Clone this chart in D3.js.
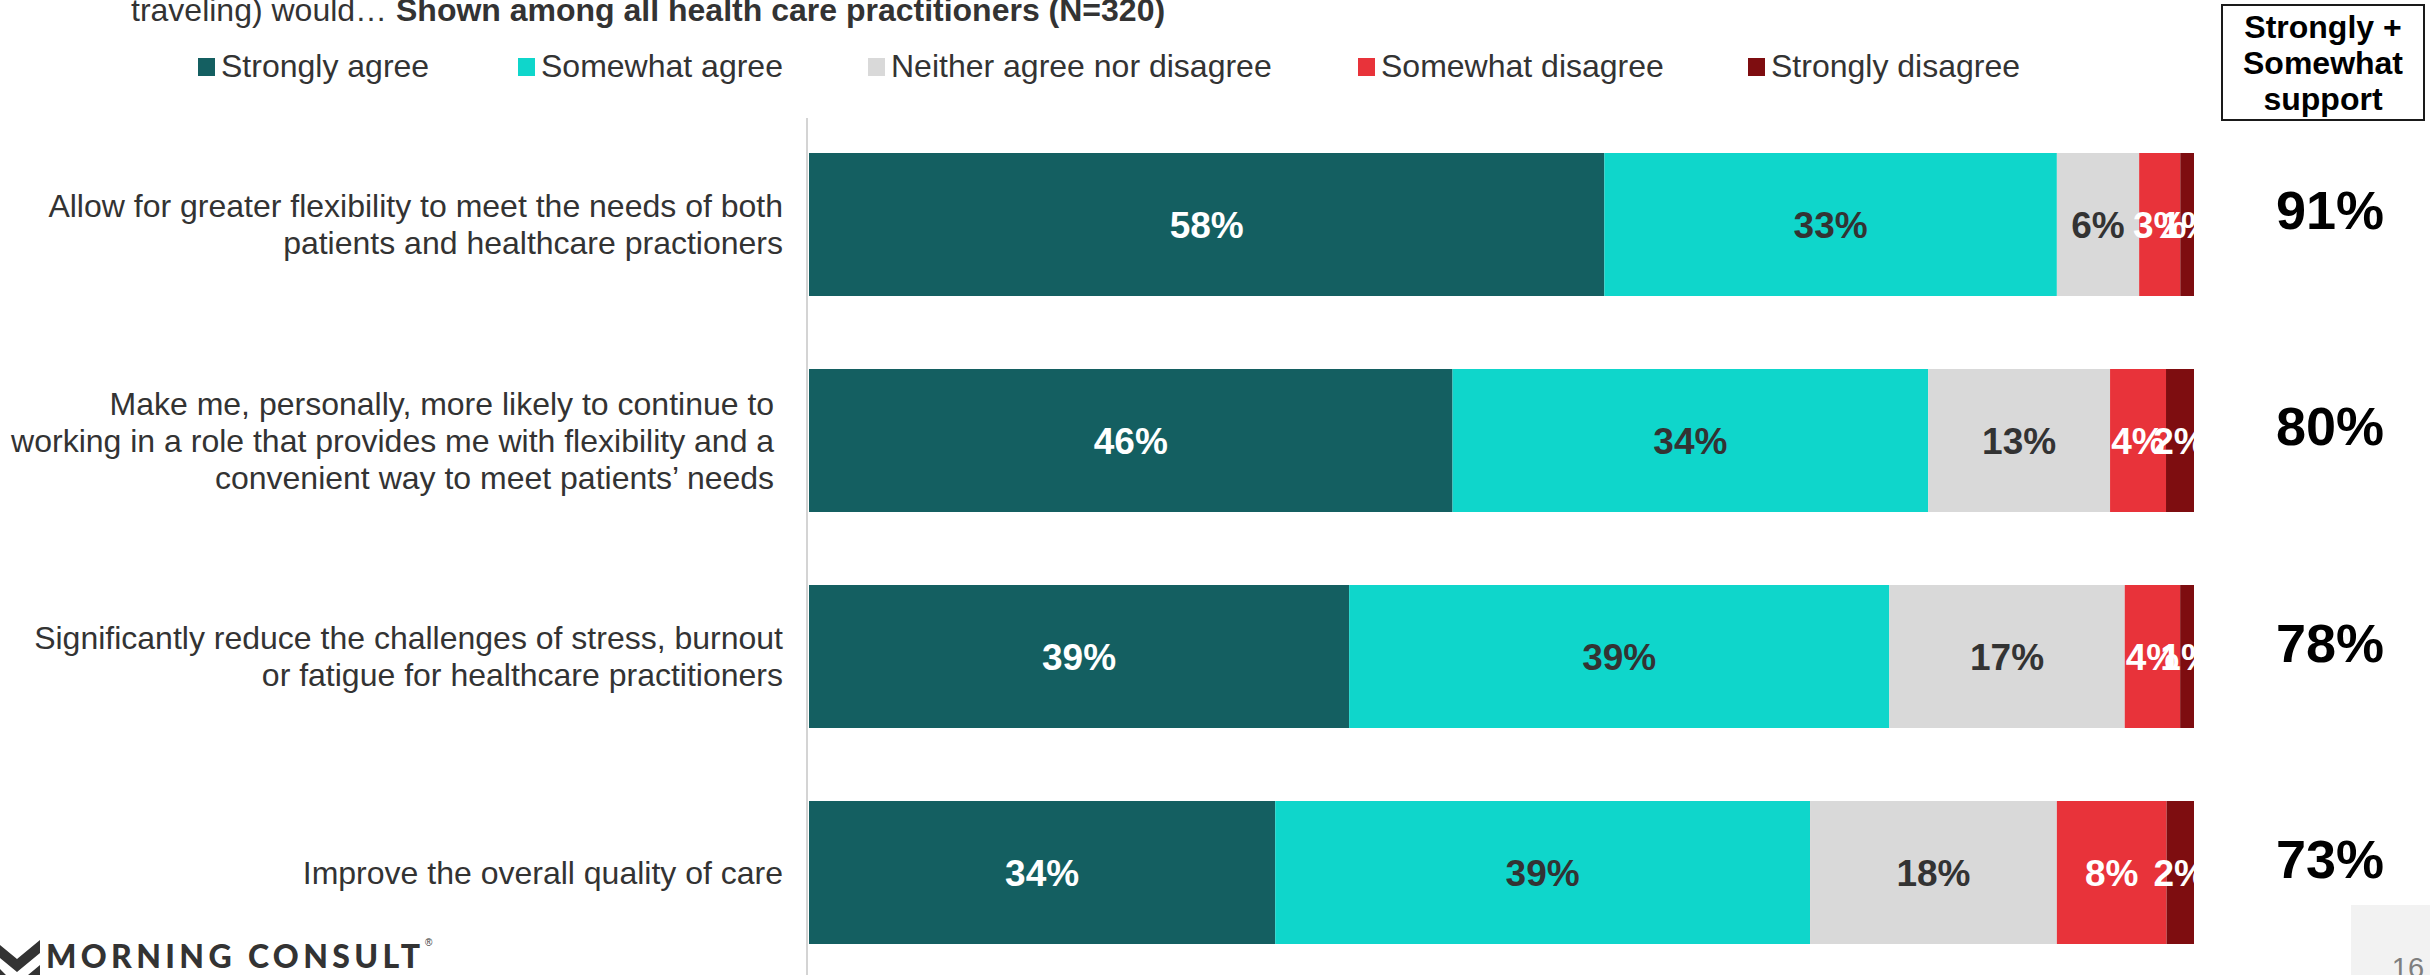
<!DOCTYPE html>
<html>
<head>
<meta charset="utf-8">
<script src="https://cdn.jsdelivr.net/npm/d3@7"></script>
<style>
  html, body { margin: 0; padding: 0; background: #fff; }
  svg { display: block; font-family: "Liberation Sans", Arial, Helvetica, sans-serif; }
  .pre { white-space: pre; }
</style>
</head>
<body>
<svg id="chart" width="2430" height="975"></svg>
<script>
// ---- Data -------------------------------------------------------------
const categories = [
  "Allow for greater flexibility",
  "Make me more likely to continue",
  "Reduce stress, burnout or fatigue",
  "Improve the overall quality of care"
];
const categoryLines = [
  ["Allow for greater flexibility to meet the needs of both", "patients and healthcare practioners"],
  ["Make me, personally, more likely to continue to ", "working in a role that provides me with flexibility and a ", "convenient way to meet patients\u2019 needs "],
  ["Significantly reduce the challenges of stress, burnout", "or fatigue for healthcare practitioners"],
  ["Improve the overall quality of care"]
];
const seriesNames = ["Strongly agree", "Somewhat agree", "Neither agree nor disagree", "Somewhat disagree", "Strongly disagree"];
const stronglyAgree    = [58, 46, 39, 34];
const somewhatAgree    = [33, 34, 39, 39];
const neitherAgree     = [6, 13, 17, 18];
const somewhatDisagree = [3, 4, 4, 8];
const stronglyDisagree = [1, 2, 1, 2];
const supportTotals    = [91, 80, 78, 73];
const seriesColors = ["#145f61", "#0fd6cb", "#d9d9d9", "#e8333a", "#7e0d10"];
const labelColors  = ["#ffffff", "#333333", "#333333", "#ffffff", "#ffffff"];
const legendX = [198, 518, 868, 1358, 1748];

// ---- Layout ------------------------------------------------------------
const W = 2430, H = 975;
const plotLeft = 809, plotRight = 2194;
const svg = d3.select("#chart");

const seriesValues = [stronglyAgree, somewhatAgree, neitherAgree, somewhatDisagree, stronglyDisagree];
const rows = categories.map((c, i) => {
  const r = { category: c };
  seriesNames.forEach((s, k) => { r[s] = seriesValues[k][i]; });
  return r;
});

// 100% stacked: each row is expanded to the full width
const stacked = d3.stack().keys(seriesNames).offset(d3.stackOffsetExpand)(rows);

const x = d3.scaleLinear().domain([0, 1]).range([plotLeft, plotRight]);
const y = d3.scaleBand().domain(categories).range([153, 944]).paddingInner(0.338).paddingOuter(0);
const color = d3.scaleOrdinal().domain(seriesNames).range(seriesColors);
const textColor = d3.scaleOrdinal().domain(seriesNames).range(labelColors);

// ---- Title fragment ----------------------------------------------------
const title = svg.append("text").attr("x", 131).attr("y", 21)
  .attr("font-size", 32).attr("fill", "#333");
title.append("tspan").attr("class", "pre").text("traveling) would\u2026 ");
title.append("tspan").attr("font-weight", "bold").text("Shown among all health care practitioners (N=320)");

// ---- Legend ------------------------------------------------------------
const legend = svg.append("g").selectAll("g").data(seriesNames).join("g")
  .attr("transform", (d, i) => `translate(${legendX[i]},0)`);
legend.append("rect").attr("x", 0).attr("y", 58).attr("width", 17).attr("height", 18)
  .attr("fill", d => color(d));
legend.append("text").attr("x", 23).attr("y", 77).attr("font-size", 32).attr("fill", "#333")
  .text(d => d);

// ---- Header box for the combined support column ------------------------
svg.append("rect").attr("x", 2222).attr("y", 5).attr("width", 202).attr("height", 115)
  .attr("fill", "none").attr("stroke", "#1a1a1a").attr("stroke-width", 2);
const headerLines = ["Strongly +", "Somewhat", "support"];
svg.append("g").selectAll("text").data(headerLines).join("text")
  .attr("x", 2323).attr("y", (d, i) => 38 + i * 36)
  .attr("text-anchor", "middle").attr("font-size", 32).attr("font-weight", "bold").attr("fill", "#000")
  .text(d => d);

// ---- Axis line -----------------------------------------------------------
svg.append("line").attr("x1", plotLeft - 2).attr("x2", plotLeft - 2)
  .attr("y1", 118).attr("y2", H).attr("stroke", "#d4d4d4").attr("stroke-width", 2);

// ---- Category labels -----------------------------------------------------
const catFont = 32, catPitch = 37, catCap = catFont * 0.716;
const catG = svg.append("g");
categories.forEach((c, i) => {
  const lines = categoryLines[i];
  const cy = y(c) + y.bandwidth() / 2;
  const t = catG.append("text").attr("class", "pre").attr("text-anchor", "end")
    .attr("font-size", catFont).attr("fill", "#333");
  lines.forEach((ln, j) => {
    t.append("tspan").attr("x", 783)
      .attr("y", cy + (j - (lines.length - 1) / 2) * catPitch + catCap / 2)
      .text(ln);
  });
});

// ---- Bars --------------------------------------------------------------
svg.append("clipPath").attr("id", "plotClip")
  .append("rect").attr("x", plotLeft).attr("y", 0).attr("width", plotRight - plotLeft).attr("height", H);

const layers = svg.append("g").selectAll("g").data(stacked).join("g")
  .attr("fill", d => color(d.key));
layers.selectAll("rect").data(d => d).join("rect")
  .attr("x", d => x(d[0]))
  .attr("width", d => x(d[1]) - x(d[0]))
  .attr("y", d => y(d.data.category))
  .attr("height", y.bandwidth());

// ---- Segment value labels -----------------------------------------------
const barFont = 37, barCap = barFont * 0.716;
const labelG = svg.append("g").attr("clip-path", "url(#plotClip)");
stacked.forEach(layer => {
  labelG.append("g").selectAll("text").data(layer).join("text")
    .attr("x", d => x((d[0] + d[1]) / 2))
    .attr("y", d => y(d.data.category) + y.bandwidth() / 2 + barCap / 2)
    .attr("text-anchor", "middle")
    .attr("font-size", barFont).attr("font-weight", "bold")
    .attr("fill", textColor(layer.key))
    .text(d => d.data[layer.key] + "%");
});

// ---- Combined support values ---------------------------------------------
svg.append("g").selectAll("text").data(categories).join("text")
  .attr("x", 2330)
  .attr("y", (c) => y(c) + y.bandwidth() / 2 + 5)
  .attr("text-anchor", "middle").attr("font-size", 54).attr("font-weight", "bold").attr("fill", "#000")
  .text((c, i) => supportTotals[i] + "%");

// ---- Footer: brand mark and page number -----------------------------------
const logo = svg.append("g").attr("fill", "#333");
logo.append("path").attr("d", "M-6,940 L17,959 L40,940 L40,953 L17,972 L-6,953 Z");
logo.append("path").attr("d", "M-6,963 L6,975 L-6,975 Z M28,975 L40,965 L40,975 Z");
logo.append("text").attr("x", 46).attr("y", 968)
  .attr("font-family", "Lato, 'Open Sans', sans-serif").attr("font-weight", 900)
  .attr("font-size", 32).attr("textLength", 374).attr("lengthAdjust", "spacing")
  .text("MORNING CONSULT");
logo.append("text").attr("x", 425).attr("y", 946).attr("font-size", 10).text("\u00ae");

svg.append("rect").attr("x", 2351).attr("y", 905).attr("width", 79).attr("height", 70).attr("fill", "#f2f2f2");
svg.append("text").attr("x", 2408).attr("y", 978).attr("text-anchor", "middle")
  .attr("font-size", 29).attr("fill", "#7f7f7f").text("16");
</script>
</body>
</html>
